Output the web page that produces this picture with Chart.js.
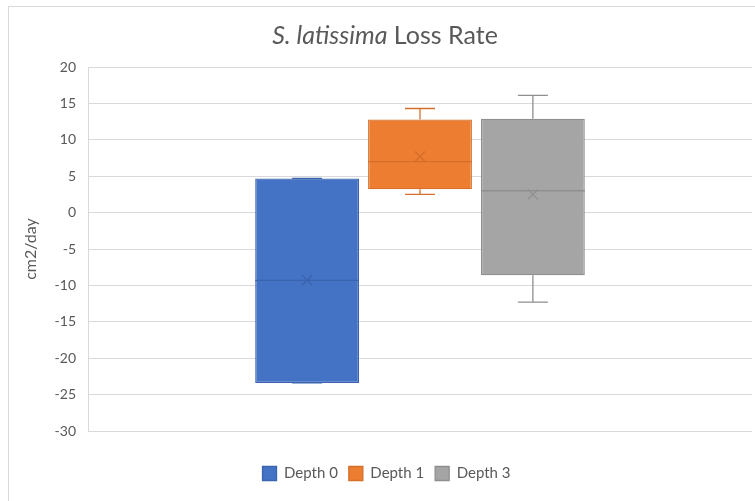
<!DOCTYPE html>
<html>
<head>
<meta charset="utf-8">
<script src="https://cdn.jsdelivr.net/npm/chart.js@4"></script>
<style>
  html, body { margin: 0; padding: 0; background: #fff; }
  #wrap { width: 755px; height: 501px; }
</style>
</head>
<body>
<div id="wrap"><canvas id="boxChart"></canvas></div>
<script>
// --- data ---
const seriesNames = ['Depth 0', 'Depth 1', 'Depth 3'];
const q1Values = [-23.4, 3.2, -8.6];
const q3Values = [4.7, 12.8, 12.9];
const medianValues = [-9.3, 7.0, 3.0];
const meanValues = [-9.3, 7.7, 2.5];
const minValues = [-23.4, 2.5, -12.3];
const maxValues = [4.7, 14.3, 16.1];
const yTicks = [20, 15, 10, 5, 0, -5, -10, -15, -20, -25, -30];

const fills = ['#4472C4', '#ED7D31', '#A5A5A5'];
const edges = ['#3A64AE', '#D46F2A', '#8F8F8F'];

const FONT = 'Lato, "Open Sans", sans-serif';

// whiskers, median line and mean marker on top of the floating bars
const boxPlotParts = {
    id: 'boxPlotParts',
    afterDatasetsDraw(chart) {
        const ctx = chart.ctx;
        const y = chart.scales.y;
        ctx.save();
        chart.data.datasets.forEach((ds, i) => {
            const bar = chart.getDatasetMeta(i).data[0];
            const x = bar.x, half = bar.width / 2;
            ctx.strokeStyle = edges[i];
            ctx.lineWidth = 1.3;
            ctx.beginPath();
            // upper whisker
            ctx.moveTo(x, y.getPixelForValue(q3Values[i]));
            ctx.lineTo(x, y.getPixelForValue(maxValues[i]));
            ctx.moveTo(x - 15, y.getPixelForValue(maxValues[i]));
            ctx.lineTo(x + 15, y.getPixelForValue(maxValues[i]));
            // lower whisker
            ctx.moveTo(x, y.getPixelForValue(q1Values[i]));
            ctx.lineTo(x, y.getPixelForValue(minValues[i]));
            ctx.moveTo(x - 15, y.getPixelForValue(minValues[i]));
            ctx.lineTo(x + 15, y.getPixelForValue(minValues[i]));
            // median
            ctx.moveTo(x - half, y.getPixelForValue(medianValues[i]));
            ctx.lineTo(x + half, y.getPixelForValue(medianValues[i]));
            ctx.stroke();
            // mean marker
            const my = y.getPixelForValue(meanValues[i]);
            ctx.beginPath();
            ctx.moveTo(x - 5, my - 5); ctx.lineTo(x + 5, my + 5);
            ctx.moveTo(x + 5, my - 5); ctx.lineTo(x - 5, my + 5);
            ctx.stroke();
        });
        ctx.restore();
    }
};

// chart frame and the mixed italic title
const frameAndTitle = {
    id: 'frameAndTitle',
    beforeDraw(chart) {
        const ctx = chart.ctx;
        ctx.save();
        ctx.strokeStyle = '#D9D9D9';
        ctx.lineWidth = 1;
        ctx.strokeRect(8.5, 6.5, 800, 600);

        const partA = 'S. latissima';
        const partB = ' Loss Rate';
        ctx.fillStyle = '#595959';
        ctx.textBaseline = 'alphabetic';
        ctx.font = 'italic 25px ' + FONT;
        const wA = ctx.measureText(partA).width;
        ctx.font = '25px ' + FONT;
        const wB = ctx.measureText(partB).width;
        let left = 385 - (wA + wB) / 2;
        ctx.font = 'italic 25px ' + FONT;
        ctx.fillText(partA, left, 44);
        ctx.font = '25px ' + FONT;
        ctx.fillText(partB, left + wA, 44);
        ctx.restore();
    }
};

const datasets = seriesNames.map((name, i) => ({
    label: name,
    data: [[q1Values[i], q3Values[i]]],
    backgroundColor: fills[i],
    borderColor: edges[i],
    borderWidth: 1.3,
    borderSkipped: false,
    categoryPercentage: 0.51,
    barPercentage: 0.92
}));

new Chart(document.getElementById('boxChart'), {
    type: 'bar',
    data: { labels: [''], datasets: datasets },
    options: {
        responsive: true,
        maintainAspectRatio: false,
        animation: false,
        layout: { padding: { top: 67, right: 3, bottom: 10, left: 21 } },
        scales: {
            x: {
                grid: { display: false },
                border: { display: false },
                ticks: { display: false },
                afterFit: (s) => { s.height = 24; }
            },
            y: {
                min: -30,
                max: 20,
                afterBuildTicks: (s) => { s.ticks = yTicks.map(v => ({ value: v })); },
                afterFit: (s) => { s.width = 67; },
                grid: { color: '#D9D9D9', drawTicks: false },
                border: { color: '#D9D9D9' },
                ticks: {
                    color: '#595959',
                    font: { family: FONT, size: 14 },
                    padding: 12
                },
                title: {
                    display: true,
                    text: 'cm2/day',
                    color: '#595959',
                    font: { family: FONT, size: 16 },
                    padding: { top: 0, bottom: 6 }
                }
            }
        },
        plugins: {
            legend: {
                position: 'bottom',
                labels: {
                    color: '#595959',
                    font: { family: FONT, size: 15 },
                    boxWidth: 14,
                    boxHeight: 14,
                    padding: 11
                }
            },
            tooltip: { enabled: false }
        }
    },
    plugins: [boxPlotParts, frameAndTitle]
});
</script>
</body>
</html>
